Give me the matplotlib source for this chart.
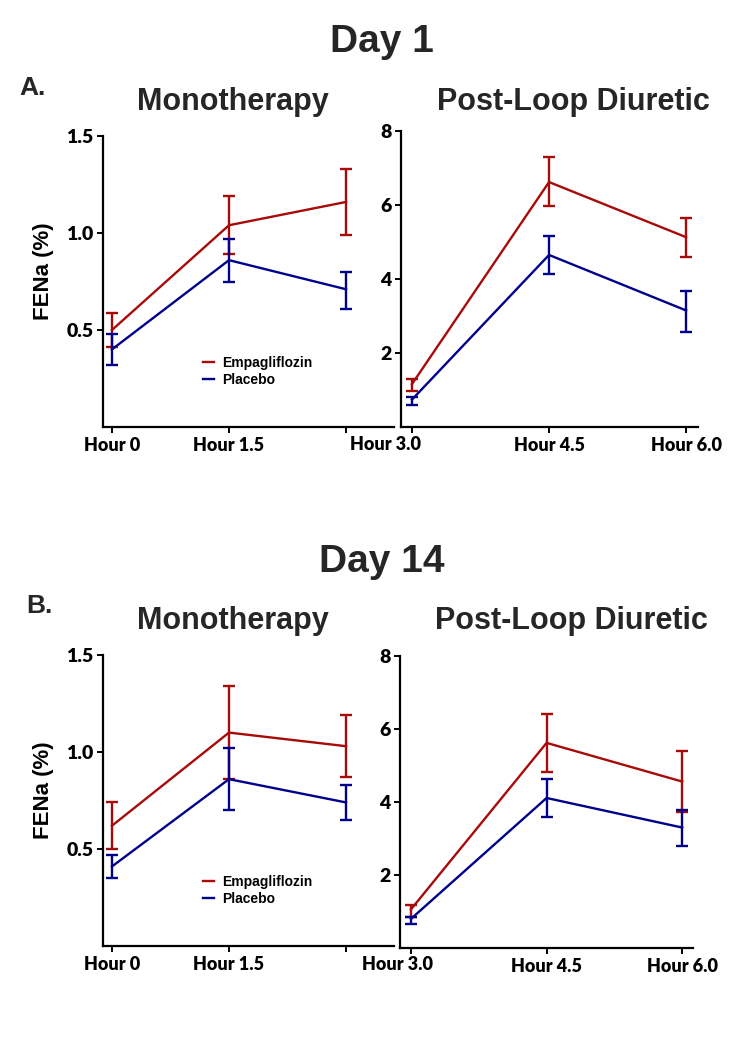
import matplotlib
matplotlib.use("Agg")
import matplotlib.pyplot as plt

# x positions (hours)
hours_mono = [0, 1.5, 3.0]
hours_loop = [3.0, 4.5, 6.0]
labels_mono = ["Hour 0", "Hour 1.5", ""]
labels_loop = ["", "Hour 4.5", "Hour 6.0"]
shared_label = "Hour 3.0"

# Day 1 - monotherapy: mean, lower, upper
d1_mono_emp = [0.50, 1.04, 1.16]
d1_mono_emp_lo = [0.41, 0.89, 0.99]
d1_mono_emp_hi = [0.59, 1.19, 1.33]
d1_mono_pla = [0.40, 0.86, 0.71]
d1_mono_pla_lo = [0.32, 0.75, 0.61]
d1_mono_pla_hi = [0.48, 0.97, 0.80]

# Day 1 - post-loop diuretic
d1_loop_emp = [1.16, 6.62, 5.13]
d1_loop_emp_lo = [0.98, 5.98, 4.60]
d1_loop_emp_hi = [1.30, 7.30, 5.66]
d1_loop_pla = [0.74, 4.65, 3.15]
d1_loop_pla_lo = [0.60, 4.14, 2.58]
d1_loop_pla_hi = [0.80, 5.17, 3.68]

# Day 14 - monotherapy
d14_mono_emp = [0.62, 1.10, 1.03]
d14_mono_emp_lo = [0.50, 0.86, 0.87]
d14_mono_emp_hi = [0.74, 1.34, 1.19]
d14_mono_pla = [0.41, 0.86, 0.74]
d14_mono_pla_lo = [0.35, 0.70, 0.65]
d14_mono_pla_hi = [0.47, 1.02, 0.83]

# Day 14 - post-loop diuretic
d14_loop_emp = [1.06, 5.62, 4.56]
d14_loop_emp_lo = [0.85, 4.83, 3.73]
d14_loop_emp_hi = [1.18, 6.42, 5.40]
d14_loop_pla = [0.80, 4.11, 3.30]
d14_loop_pla_lo = [0.65, 3.60, 2.80]
d14_loop_pla_hi = [0.85, 4.63, 3.78]

RED = "#A80A0A"
BLUE = "#00008B"
W, H = 752, 1050
TICKFONT = dict(fontfamily="Lato", fontweight="heavy")

fig = plt.figure(figsize=(W / 100, H / 100), dpi=100)


def px_axes(left, right, top, bottom):
    return fig.add_axes([left / W, (H - bottom) / H, (right - left) / W, (bottom - top) / H])


def draw(ax, x, emp, emp_lo, emp_hi, pla, pla_lo, pla_hi, xlabels, xlim, ylim, yticks, ylabel, legend):
    for y, lo, hi, c, name in [(emp, emp_lo, emp_hi, RED, "Empagliflozin"),
                               (pla, pla_lo, pla_hi, BLUE, "Placebo")]:
        err = [[m - l for m, l in zip(y, lo)], [h - m for m, h in zip(y, hi)]]
        ax.errorbar(x, y, yerr=err, color=c, lw=1.7, elinewidth=1.7,
                    capsize=4.5, capthick=1.7, label=name)
    ax.set_xlim(*xlim)
    ax.set_ylim(*ylim)
    ax.set_xticks(x)
    ax.set_xticklabels(xlabels, fontsize=13, **TICKFONT)
    ax.set_yticks(yticks)
    if ylim[1] < 2:
        ax.set_yticklabels([f"{t:.1f}" for t in yticks], fontsize=14, **TICKFONT)
    else:
        ax.set_yticklabels([str(t) for t in yticks], fontsize=14, **TICKFONT)
    for s in ["top", "right"]:
        ax.spines[s].set_visible(False)
    for s in ["left", "bottom"]:
        ax.spines[s].set_linewidth(1.6)
    ax.tick_params(width=1.4, length=4, pad=3)
    if ylabel:
        ax.set_ylabel("FENa (%)", fontfamily="Liberation Sans", fontweight="bold", fontsize=16)
        ax.yaxis.set_label_coords(-0.17, 0.535)
    if legend:
        h, l = ax.get_legend_handles_labels()
        h = [hh[0] for hh in h]
        ax.legend(h, l, loc="center left", bbox_to_anchor=(0.3, 0.19), frameon=False,
                  handlelength=0.8, handletextpad=0.6, labelspacing=0.2,
                  prop={"family": "Liberation Sans", "weight": "bold", "size": 10})


ax1 = px_axes(103, 394, 136, 427)
draw(ax1, hours_mono, d1_mono_emp, d1_mono_emp_lo, d1_mono_emp_hi,
     d1_mono_pla, d1_mono_pla_lo, d1_mono_pla_hi, labels_mono,
     (-0.115, 3.615), (0, 1.5), [0.5, 1.0, 1.5], True, True)

ax2 = px_axes(401, 698, 131, 427)
draw(ax2, hours_loop, d1_loop_emp, d1_loop_emp_lo, d1_loop_emp_hi,
     d1_loop_pla, d1_loop_pla_lo, d1_loop_pla_hi, labels_loop,
     (2.88, 6.13), (0, 8), [2, 4, 6, 8], False, False)

ax3 = px_axes(103, 394, 655, 946)
draw(ax3, hours_mono, d14_mono_emp, d14_mono_emp_lo, d14_mono_emp_hi,
     d14_mono_pla, d14_mono_pla_lo, d14_mono_pla_hi, labels_mono,
     (-0.115, 3.615), (0, 1.5), [0.5, 1.0, 1.5], True, True)

ax4 = px_axes(400, 693, 656, 948)
draw(ax4, hours_loop, d14_loop_emp, d14_loop_emp_lo, d14_loop_emp_hi,
     d14_loop_pla, d14_loop_pla_lo, d14_loop_pla_hi, labels_loop,
     (2.878, 6.12), (0, 8), [2, 4, 6, 8], False, False)

# shared "Hour 3.0" label between the two panels of each row
fig.text(386 / W, 1 - 445 / H, shared_label, fontsize=13, ha="center", va="center", **TICKFONT)
fig.text(397 / W, 1 - 965 / H, shared_label, fontsize=13, ha="center", va="center", **TICKFONT)

title_kw = dict(fontfamily="Liberation Sans", fontweight="bold", color="#262626", ha="center", va="center")
fig.text(382 / W, 1 - 42 / H, "Day 1", fontsize=28, **title_kw)
fig.text(382 / W, 1 - 562 / H, "Day 14", fontsize=28, **title_kw)
fig.text(233 / W, 1 - 102 / H, "Monotherapy", fontsize=22, **title_kw)
fig.text(573 / W, 1 - 102 / H, "Post-Loop Diuretic", fontsize=22, **title_kw)
fig.text(233 / W, 1 - 621 / H, "Monotherapy", fontsize=22, **title_kw)
fig.text(571 / W, 1 - 621 / H, "Post-Loop Diuretic", fontsize=22, **title_kw)
fig.text(33 / W, 1 - 88 / H, "A.", fontsize=19, **title_kw)
fig.text(39 / W, 1 - 606 / H, "B.", fontsize=19, **title_kw)

fig.savefig("out.png", dpi=100)
